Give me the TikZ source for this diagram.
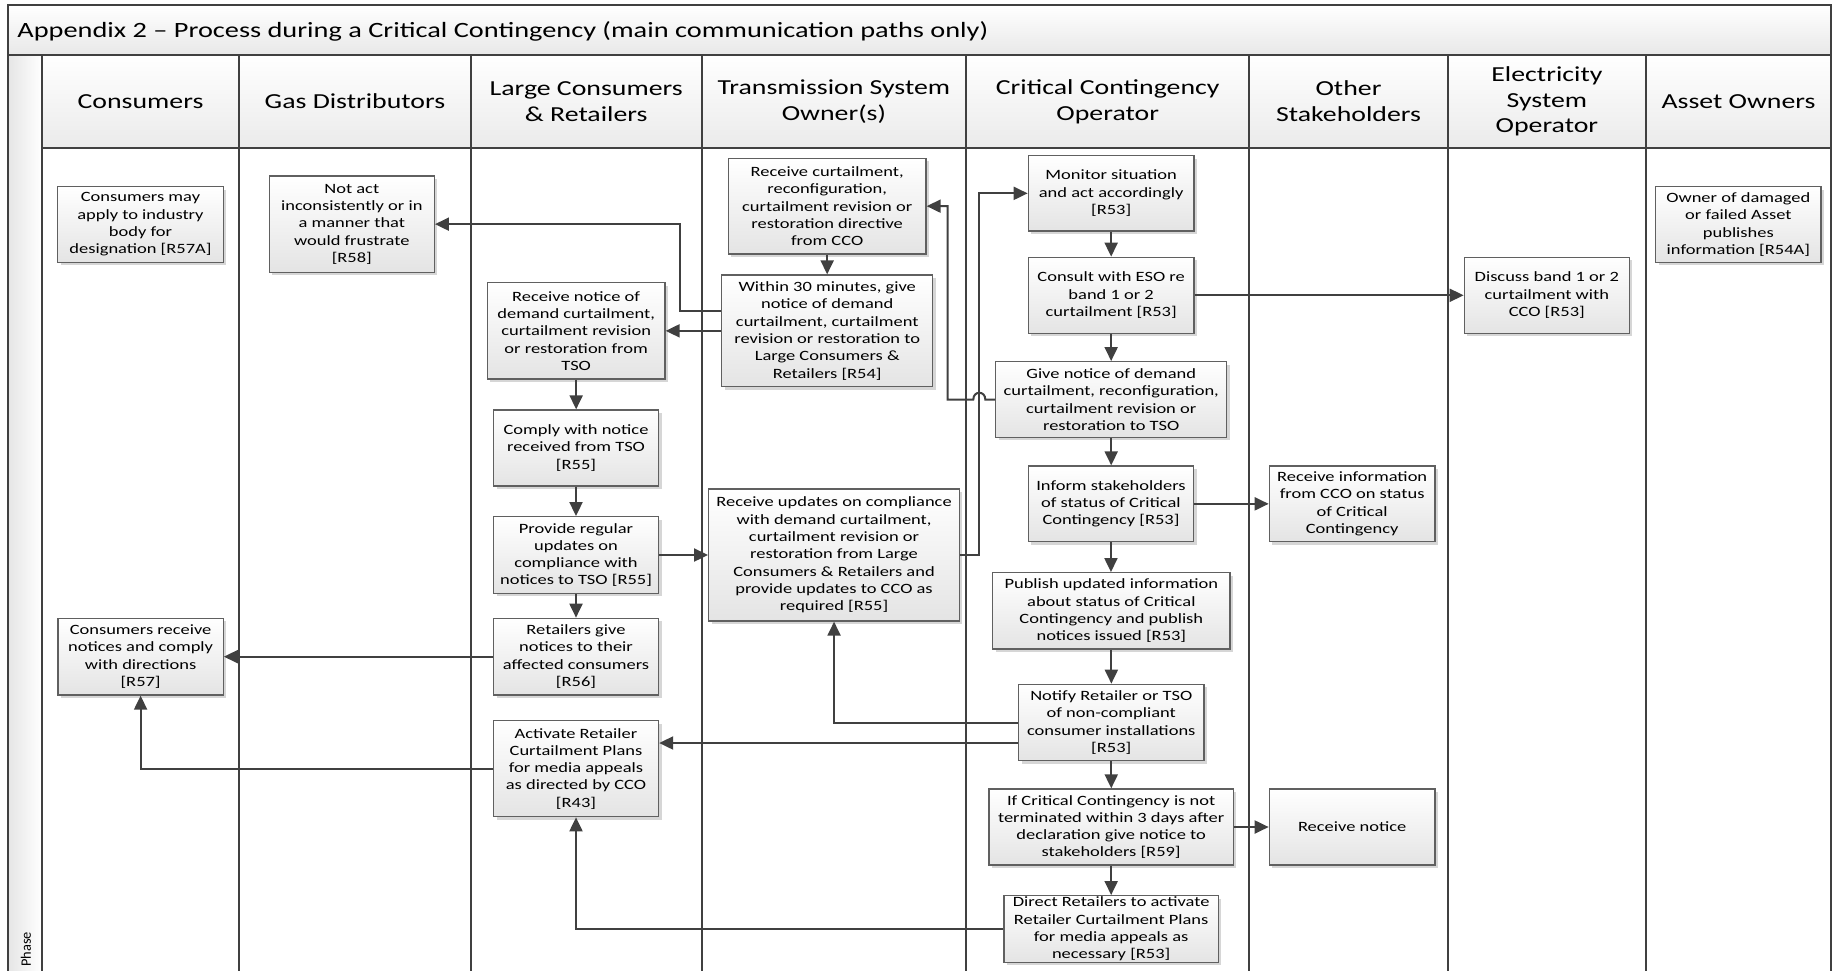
\documentclass[tikz,border=0pt]{standalone}
\usepackage{fontspec}
\setmainfont{Carlito}[FakeStretch=1.3]
\newfontfamily\plainfont{Carlito}
\usetikzlibrary{arrows.meta}
\definecolor{ln}{HTML}{404040}
\definecolor{bd}{HTML}{606060}
\definecolor{sh}{HTML}{D6D6D6}
\definecolor{bxbot}{HTML}{E4E4E4}
\newcommand\mybox[6]{%
  \fill[sh] ({#2+3},{#3+3}) rectangle ({#4+3},{#5+3});
  \pgfmathsetmacro\bw{(#4-#2)*0.5}%
  \pgfmathsetmacro\bh{(#5-#3)*0.5}%
  \node[box, minimum width=\bw pt, minimum height=\bh pt] (#1) at ({(#2+#4)/2},{(#3+#5)/2}) {#6};}
\begin{document}
\begin{tikzpicture}[x=0.5pt,y=-0.5pt,
  box/.style={draw=bd, line width=0.65pt, top color=white, bottom color=bxbot, align=center, inner sep=0.5pt, font=\fontsize{7.1}{8.65}\selectfont},
  conn/.style={draw=ln, line width=1pt, -{Triangle[length=7pt,width=6.5pt]}},
  lane/.style={draw=ln, line width=1pt},
  hdr/.style={align=center, font=\fontsize{10.7}{12.9}\selectfont}]
\useasboundingbox (0,0) rectangle (1834,970);
% title bar, header, phase column
\shade[top color=white, bottom color=black!9] (8.3,5) rectangle (1831,55);
\shade[top color=white, bottom color=black!8] (41.7,55) rectangle (1831,147.7);
\shade[left color=black!10, right color=white] (8.3,55) rectangle (41.7,972);
\draw[lane] (8.3,972) -- (8.3,5) -- (1831,5) -- (1831,972);
\draw[lane] (8.3,55) -- (1831,55);
\draw[lane] (41.7,147.7) -- (1831,147.7);
\foreach \x in {41.7,239.3,470.7,701.7,966,1249.3,1447.7,1646} \draw[lane] (\x,55) -- (\x,972);
\node[anchor=west, inner sep=0pt, font=\fontsize{10.9}{13}\selectfont] (title) at (17,31) {Appendix 2 -- Process during a Critical Contingency (main communication paths only)};
\node[rotate=90, anchor=west, inner sep=0pt, font=\plainfont\fontsize{7.2}{8.5}\selectfont] (phase) at (26,967) {Phase};
% headers
\node[hdr] (h1) at (140.5,101.4) {Consumers};
\node[hdr] (h2) at (355,101.4) {Gas Distributors};
\node[hdr] (h3) at (586.2,101.4) {Large Consumers\\\& Retailers};
\node[hdr] (h4) at (833.9,101.4) {Transmission System\\Owner(s)};
\node[hdr] (h5) at (1107.7,101.4) {Critical Contingency\\Operator};
\node[hdr] (h6) at (1348.5,101.4) {Other\\Stakeholders};
\node[hdr] (h7) at (1546.9,101.4) {Electricity\\System\\Operator};
\node[hdr] (h8) at (1738.5,101.4) {Asset Owners};
% boxes
\mybox{cons1}{57.7}{186.7}{223.3}{262.3}{Consumers may\\apply to industry\\body for\\designation [R57A]}
\mybox{gas1}{269.3}{176}{434.3}{272.3}{Not act\\inconsistently or in\\a manner that\\would frustrate\\{[R58]}}
\mybox{tso1}{728.3}{158.3}{926}{254}{Receive curtailment,\\reconfiguration,\\curtailment revision or\\restoration directive\\from CCO}
\mybox{tso2}{721.7}{275}{932.7}{386.7}{Within 30 minutes, give\\notice of demand\\curtailment, curtailment\\revision or restoration to\\Large Consumers \&\\Retailers [R54]}
\mybox{lcr1}{487.3}{282.7}{665}{379}{Receive notice of\\demand curtailment,\\curtailment revision\\or restoration from\\TSO}
\mybox{lcr2}{493.5}{410}{658.5}{486}{Comply with notice\\received from TSO\\{[R55]}}
\mybox{lcr3}{493.5}{516.7}{658.5}{593.3}{Provide regular\\updates on\\compliance with\\notices to TSO [R55]}
\mybox{lcr4}{493.5}{618.3}{658.5}{695}{Retailers give\\notices to their\\affected consumers\\{[R56]}}
\mybox{cons2}{58}{618.3}{223.2}{695}{Consumers receive\\notices and comply\\with directions\\{[R57]}}
\mybox{lcr5}{493.5}{720.7}{658.5}{816.7}{Activate Retailer\\Curtailment Plans\\for media appeals\\as directed by CCO\\{[R43]}}
\mybox{tso3}{708.7}{489}{959.4}{621}{Receive updates on compliance\\with demand curtailment,\\curtailment revision or\\restoration from Large\\Consumers \& Retailers and\\provide updates to CCO as\\required [R55]}
\mybox{cco1}{1028.3}{155.7}{1194}{231}{Monitor situation\\and act accordingly\\{[R53]}}
\mybox{cco2}{1028.3}{257.3}{1194}{333.3}{Consult with ESO re\\band 1 or 2\\curtailment [R53]}
\mybox{cco3}{995.7}{361.7}{1226.7}{437.3}{Give notice of demand\\curtailment, reconfiguration,\\curtailment revision or\\restoration to TSO}
\mybox{cco4}{1028.3}{466}{1193.6}{541.7}{Inform stakeholders\\of status of Critical\\Contingency [R53]}
\mybox{cco5}{992.7}{572.7}{1230}{649}{Publish updated information\\about status of Critical\\Contingency and publish\\notices issued [R53]}
\mybox{cco6}{1018.5}{684.3}{1204}{760.7}{Notify Retailer or TSO\\of non-compliant\\consumer installations\\{[R53]}}
\mybox{cco7}{989}{789}{1233.3}{865}{If Critical Contingency is not\\terminated within 3 days after\\declaration give notice to\\stakeholders [R59]}
\mybox{cco8}{1004}{895.7}{1218.3}{962.3}{Direct Retailers to activate\\Retailer Curtailment Plans\\for media appeals as\\necessary [R53]}
\mybox{oth1}{1269.3}{466}{1435}{541.7}{Receive information\\from CCO on status\\of Critical\\Contingency}
\mybox{oth2}{1269.3}{789}{1435}{865}{Receive notice}
\mybox{eso1}{1464.3}{257.3}{1629.3}{333.3}{Discuss band 1 or 2\\curtailment with\\CCO [R53]}
\mybox{ast1}{1655.7}{186.7}{1821}{262.3}{Owner of damaged\\or failed Asset\\publishes\\information [R54A]}
% connectors
\draw[conn] (tso1.south) -- (tso1.south |- tso2.north);
\draw[conn] (tso2.west) -- (lcr1.east);
\coordinate (k1) at (680,310.7);
\draw[conn] (tso2.west |- k1) -- (k1) |- (gas1.east);
\draw[conn] (lcr1.south) -- (lcr1.south |- lcr2.north);
\draw[conn] (lcr2.south) -- (lcr2.south |- lcr3.north);
\draw[conn] (lcr3.south) -- (lcr3.south |- lcr4.north);
\draw[conn] (lcr3.east) -- (lcr3.east -| tso3.west);
\draw[conn] (lcr4.west) -- (lcr4.west -| cons2.east);
\draw[conn] (lcr5.west) -| (cons2.south);
\draw[conn] (cco1.south) -- (cco1.south |- cco2.north);
\draw[conn] (cco2.south) -- (cco2.south |- cco3.north);
\draw[conn] (cco3.south) -- (cco3.south |- cco4.north);
\draw[conn] (cco4.south) -- (cco4.south |- cco5.north);
\draw[conn] (cco5.south) -- (cco5.south |- cco6.north);
\draw[conn] (cco6.south) -- (cco6.south |- cco7.north);
\draw[conn] (cco7.south) -- (cco7.south |- cco8.north);
\draw[conn] (cco2.east) -- (cco2.east -| eso1.west);
\draw[conn] (cco4.east) -- (cco4.east -| oth1.west);
\draw[conn] (cco7.east) -- (cco7.east -| oth2.west);
\coordinate (k3) at (979.3,555);
\draw[conn] (tso3.east |- k3) -- (k3) |- (cco1.west);
\coordinate (hopR) at (985.3,399.5);
\coordinate (hopL) at (973.3,399.5);
\coordinate (k2) at (947.7,399.5);
\draw[conn] (cco3.west |- hopR) -- (hopR) .. controls (985.3,390.5) and (973.3,390.5) .. (hopL) -- (k2) |- (tso1.east);
\coordinate (k4) at (834,722.7);
\draw[conn] (cco6.west |- k4) -| (tso3.south);
\coordinate (k5) at (600,743);
\draw[conn] (cco6.west |- k5) -- (lcr5.east |- k5);
\draw[conn] (cco8.west) -| (lcr5.south);
\end{tikzpicture}
\end{document}
